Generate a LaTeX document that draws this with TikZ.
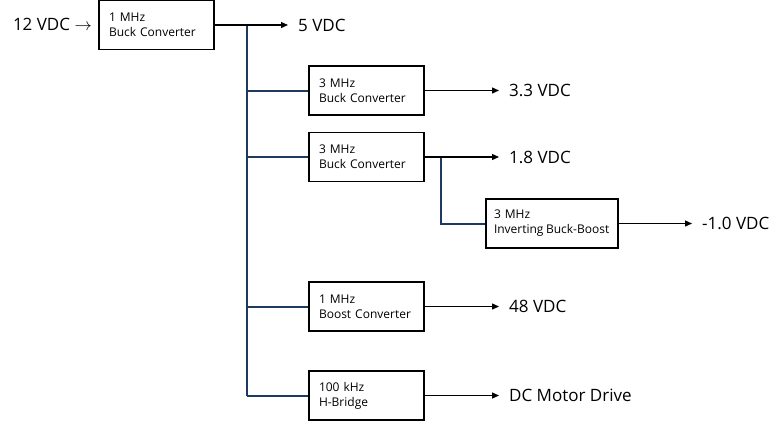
\documentclass[tikz,border=0pt]{standalone}
\usepackage{fontspec}
\setmainfont{Open Sans}
\usetikzlibrary{arrows.meta}
\definecolor{busblue}{HTML}{1F3A5F}
\tikzset{
  conv/.style={draw=black, line width=1.3pt, fill=white, minimum height=49pt, inner xsep=10pt, inner ysep=0pt, align=left, font=\fontsize{12}{15}\selectfont, anchor=center},
  outlbl/.style={anchor=west, inner sep=0pt, font=\fontsize{17}{20}\selectfont},
  outarr/.style={draw=black, line width=1.3pt, -{Triangle[length=7pt,width=6pt]}},
  bus/.style={draw=busblue, line width=2pt},
}
\begin{document}
\begin{tikzpicture}[x=1pt,y=-1pt]
\useasboundingbox (0,0) rectangle (780,421);
% boxes
\node[conv, minimum width=115pt, text width=95pt] (b1) at (156.5,25) {1 MHz\\Buck Converter};
\node[conv, minimum width=115pt, text width=95pt] (b2) at (366.5,90.5) {3 MHz\\Buck Converter};
\node[conv, minimum width=115pt, text width=95pt] (b3) at (366.5,157) {3 MHz\\Buck Converter};
\node[conv, minimum width=132pt, text width=120pt, inner xsep=6pt] (b4) at (552,223.5) {\hspace*{2pt}3 MHz\\\hspace*{2pt}\mbox{Inverting\hspace{2.5pt}Buck-Boost}};
\node[conv, minimum width=115pt, text width=95pt] (b5) at (366.5,306.5) {1 MHz\\Boost Converter};
\node[conv, minimum width=115pt, text width=95pt] (b6) at (366.5,395.5) {100 kHz\\H-Bridge};
% input label
\node[anchor=east, inner sep=0pt, font=\fontsize{17}{20}\selectfont] (in) at (92,24) {12 VDC $\rightarrow$};
% output labels
\node[outlbl] (o1) at (298,25) {5 VDC};
\node[outlbl] (o2) at (509,90.5) {3.3 VDC};
\node[outlbl] (o3) at (509,157) {1.8 VDC};
\node[outlbl] (o4) at (702,223.5) {-1.0 VDC};
\node[outlbl] (o5) at (509,306.5) {48 VDC};
\node[outlbl] (o6) at (509,395.5) {DC Motor Drive};
% bus coordinates
\coordinate (t1) at (247,25);
\coordinate (t6) at (247,395.5);
\coordinate (s1) at (441,157);
\coordinate (s2) at (441,223.5);
% bus lines
\draw[bus] (t1) -- (t6);
\draw[bus] (b2.west -| t1) -- (b2.west);
\draw[bus] (b3.west -| t1) -- (b3.west);
\draw[bus] (b5.west -| t1) -- (b5.west);
\draw[bus] (t6) -- (b6.west);
\draw[bus] (s1) -- (s2) -- (b4.west);
% output arrows
\draw[outarr] (b1.east) -- ([xshift=-10pt]o1.west);
\draw[outarr] (b2.east) -- ([xshift=-10pt]o2.west);
\draw[outarr] (b3.east) -- ([xshift=-10pt]o3.west);
\draw[outarr] (b4.east) -- ([xshift=-10pt]o4.west);
\draw[outarr] (b5.east) -- ([xshift=-10pt]o5.west);
\draw[outarr] (b6.east) -- ([xshift=-10pt]o6.west);
\end{tikzpicture}
\end{document}
